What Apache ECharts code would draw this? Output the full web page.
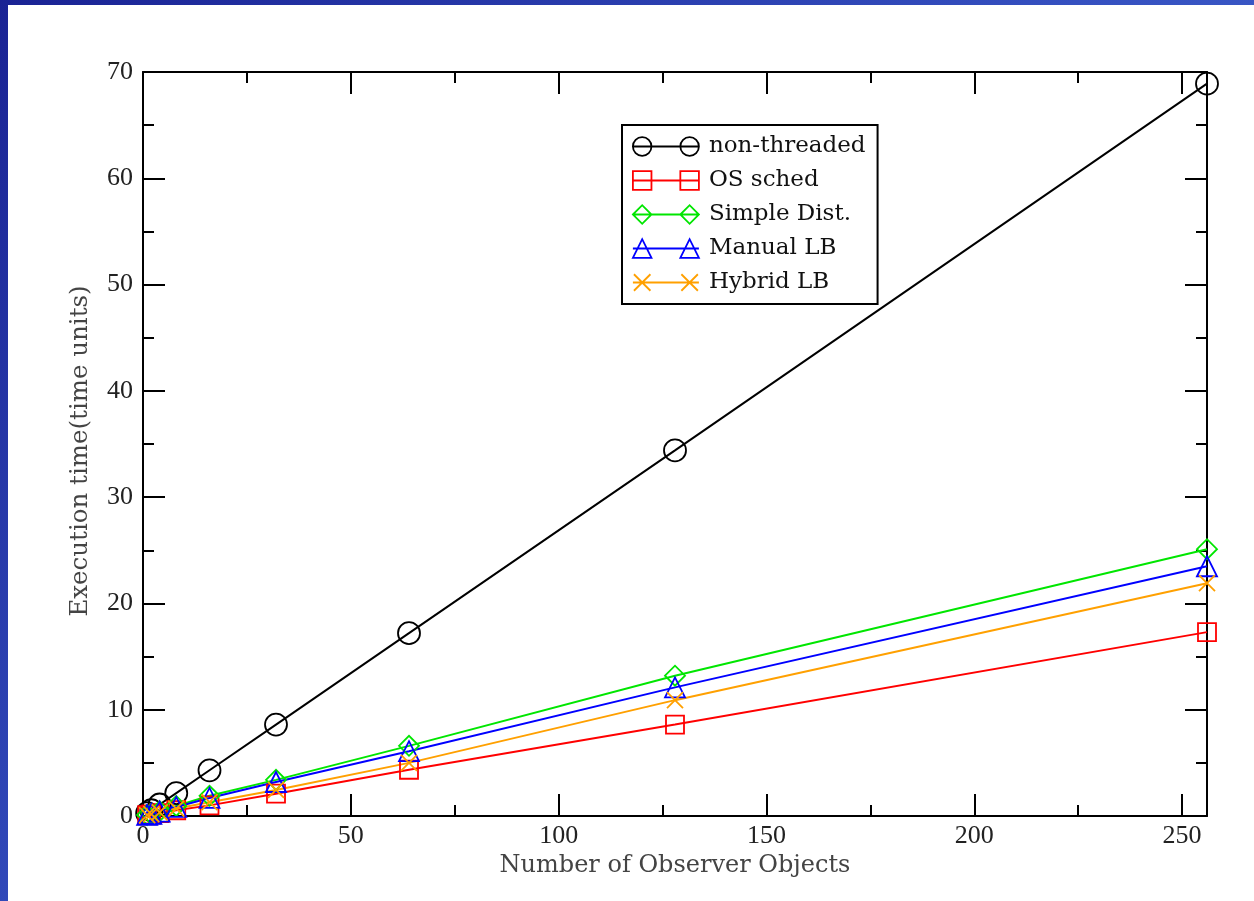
<!DOCTYPE html>
<html>
<head>
<meta charset="utf-8">
<script src="https://cdn.jsdelivr.net/npm/echarts@6/dist/echarts.min.js"></script>
<style>
  html, body { margin: 0; padding: 0; width: 1254px; height: 901px; overflow: hidden;
    background: linear-gradient(135deg, #1a2394 0%, #3550c0 50%, #4a72d8 100%); }
  #chart { position: absolute; left: 8px; top: 5px; width: 1246px; height: 896px; background: #fff; }
</style>
</head>
<body>
<div id="chart"></div>
<script>
// ---- data ----
const observers   = [1, 2, 4, 8, 16, 32, 64, 128, 256];
const nonThreaded = [0.27, 0.54, 1.08, 2.15, 4.3, 8.6, 17.2, 34.4, 68.9];
const osSched     = [0.07, 0.14, 0.27, 0.54, 1.0, 2.1, 4.35, 8.6, 17.3];
const simpleDist  = [0.1, 0.2, 0.45, 0.95, 1.9, 3.4, 6.6, 13.2, 25.1];
const manualLB    = [0.1, 0.2, 0.42, 0.85, 1.7, 3.2, 6.1, 12.1, 23.5];
const hybridLB    = [0.09, 0.17, 0.35, 0.7, 1.3, 2.45, 5.0, 10.9, 21.9];
const seriesNames = ['non-threaded', 'OS sched', 'Simple Dist.', 'Manual LB', 'Hybrid LB'];
const xTitle = 'Number of Observer Objects';
const yTitle = 'Execution time(time units)';

const TICKFONT = '"Liberation Serif", "DejaVu Serif", serif';
const TEXTFONT = '"DejaVu Serif", "Liberation Serif", serif';
const pairs = ys => observers.map((x, i) => [x, ys[i]]);

const symbols = {
  circle: 'circle',
  square: 'path://M0,0 L10,0 L10,10 L0,10 Z',
  diamond: 'path://M0,5 L5,0 L10,5 L5,10 Z',
  triangle: 'path://M0,10 L5,0 L10,10 Z',
  cross: 'path://M0,0 L10,10 M10,0 L0,10'
};
const legendIcons = {
  circle: 'path://M1,10 A9,9 0 1,1 19,10 A9,9 0 1,1 1,10 Z M47,10 A9,9 0 1,1 65,10 A9,9 0 1,1 47,10 Z M1,10 L65,10',
  square: 'path://M1,1 L19,1 L19,19 L1,19 Z M47,1 L65,1 L65,19 L47,19 Z M1,10 L65,10',
  diamond: 'path://M1,10 L10,1 L19,10 L10,19 Z M47,10 L56,1 L65,10 L56,19 Z M1,10 L65,10',
  triangle: 'path://M1,19 L10,1 L19,19 Z M47,19 L56,1 L65,19 Z M1,10 L65,10',
  cross: 'path://M2,2 L18,18 M18,2 L2,18 M48,2 L64,18 M64,2 L48,18 M1,10 L65,10'
};
const defs = [
  { name: seriesNames[0], data: nonThreaded, color: '#000000', sym: 'circle', size: 22 },
  { name: seriesNames[1], data: osSched, color: '#ff0000', sym: 'square', size: 18 },
  { name: seriesNames[2], data: simpleDist, color: '#00e600', sym: 'diamond', size: 20 },
  { name: seriesNames[3], data: manualLB, color: '#0000ff', sym: 'triangle', size: 20 },
  { name: seriesNames[4], data: hybridLB, color: '#ffa000', sym: 'cross', size: 16 }
];

const tickCommon = { inside: true, length: 22, lineStyle: { color: '#000', width: 2 } };
const minorCommon = { show: true, splitNumber: 2, length: 11, lineStyle: { color: '#000', width: 2 } };
const lineCommon = { show: true, onZero: false, lineStyle: { color: '#000', width: 2 } };

const chart = echarts.init(document.getElementById('chart'));
chart.setOption({
  animation: false,
  backgroundColor: '#fff',
  grid: { left: 135, top: 67, right: 47, bottom: 85 },
  legend: {
    orient: 'vertical',
    left: 614, top: 120,
    padding: [10, 12, 10, 10],
    itemWidth: 66, itemHeight: 20, itemGap: 11,
    borderColor: '#000', borderWidth: 2,
    backgroundColor: '#fff',
    textStyle: { fontFamily: TEXTFONT, fontSize: 23, color: '#111', padding: [0, 0, 0, 5] },
    data: defs.map(d => ({
      name: d.name,
      icon: legendIcons[d.sym],
      itemStyle: { color: 'rgba(0,0,0,0)', borderColor: d.color, borderWidth: 1.8 }
    }))
  },
  xAxis: [{
    type: 'value', min: 0, max: 256, interval: 50,
    name: xTitle, nameLocation: 'middle', nameGap: 38,
    nameTextStyle: { fontFamily: TEXTFONT, fontSize: 24, color: '#444' },
    axisLine: lineCommon, axisTick: tickCommon, minorTick: minorCommon,
    splitLine: { show: false },
    axisLabel: { showMaxLabel: false, fontFamily: TICKFONT, fontSize: 26, color: '#222', margin: 7 }
  }, {
    type: 'value', min: 0, max: 256, interval: 50, position: 'top',
    axisLine: lineCommon, axisTick: tickCommon, minorTick: minorCommon,
    splitLine: { show: false }, axisLabel: { show: false }
  }],
  yAxis: [{
    type: 'value', min: 0, max: 70, interval: 10,
    name: yTitle, nameLocation: 'middle', nameGap: 50,
    nameTextStyle: { fontFamily: TEXTFONT, fontSize: 24.5, color: '#444', padding: [0, 14, 0, 0] },
    axisLine: lineCommon, axisTick: tickCommon, minorTick: minorCommon,
    splitLine: { show: false },
    axisLabel: { fontFamily: TICKFONT, fontSize: 26, color: '#222', margin: 10 }
  }, {
    type: 'value', min: 0, max: 70, interval: 10, position: 'right',
    axisLine: lineCommon, axisTick: tickCommon, minorTick: minorCommon,
    splitLine: { show: false }, axisLabel: { show: false }
  }],
  series: defs.map(d => ({
    name: d.name,
    type: 'line',
    data: pairs(d.data),
    symbol: symbols[d.sym],
    symbolSize: d.size,
    showAllSymbol: true,
    clip: false,
    lineStyle: { color: d.color, width: 2 },
    itemStyle: { color: 'rgba(0,0,0,0)', borderColor: d.color, borderWidth: 1.8 },
    emphasis: { disabled: true }
  }))
});
</script>
</body>
</html>
